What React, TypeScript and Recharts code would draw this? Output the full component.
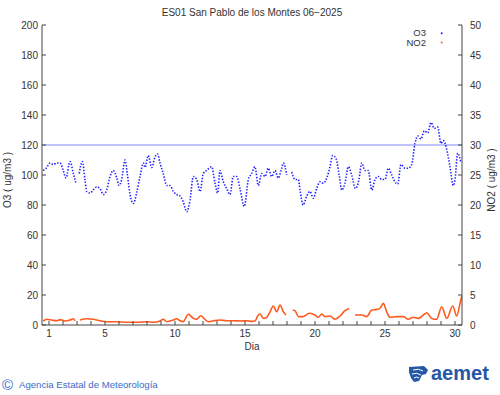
import { LineChart, Line, XAxis, YAxis, ReferenceLine } from "recharts";

const FONT = "'Liberation Sans', Arial, Helvetica, sans-serif";
const AXIS = "#444";
const TEXT = "#333";
const O3_COLOR = "#1f1fff";
const NO2_COLOR = "#ff5a1f";

const title = "ES01 San Pablo de los Montes 06\u22122025";
const xLabel = "Dia";
const o3Label = "O3 ( ug/m3 )";
const no2Label = "NO2 ( ug/m3 )";
const footerText = "Agencia Estatal de Meteorología";

const dayTicks = [
  1, 2, 3, 4, 5, 6, 7, 8, 9, 10, 11, 12, 13, 14, 15, 16, 17, 18, 19, 20, 21,
  22, 23, 24, 25, 26, 27, 28, 29, 30,
];
const dayLabels = [1, 5, 10, 15, 20, 25, 30];
const o3Ticks = [0, 20, 40, 60, 80, 100, 120, 140, 160, 180, 200];
const no2Ticks = [0, 5, 10, 15, 20, 25, 30, 35, 40, 45, 50];
const o3Limit = 120;

// O3 (left axis), null = no data
const o3Day = [
  0.59, 0.84, 1.07, 1.31, 1.55, 1.79, 2.02, 2.21, 2.5, 2.74, 2.91, 3.05, 3.16,
  3.38, 3.57, 3.69, 3.93, 4.16, 4.41, 4.64, 4.88, 5.12, 5.36, 5.59, 5.84, 6.0,
  6.19, 6.43, 6.59, 6.79, 7.02, 7.26, 7.5, 7.74, 7.86, 8.09, 8.34, 8.57, 8.76,
  8.93, 9.16, 9.41, 9.64, 9.88, 10.12, 10.36, 10.59, 10.84, 11.07, 11.31, 11.55,
  11.79, 12.02, 12.26, 12.62, 12.86, 13.05, 13.21, 13.45, 13.69, 13.93, 14.16,
  14.41, 14.64, 14.95, 15.24, 15.48, 15.71, 15.95, 16.19, 16.43, 16.66, 16.91,
  17.14, 17.38, 17.62, 17.74, 17.98, 18.15, 18.34, 18.57, 18.81, 18.93, 19.16,
  19.41, 19.64, 19.88, 20.12, 20.36, 20.59, 20.84, 21.07, 21.26, 21.5, 21.74,
  21.91, 22.14, 22.38, 22.62, 22.89, 23.14, 23.34, 23.57, 23.81, 24.05, 24.29,
  24.52, 24.76, 25.0, 25.24, 25.48, 25.71, 25.91, 26.14, 26.43, 26.66, 26.91,
  27.14, 27.34, 27.57, 27.81, 28.05, 28.29, 28.52, 28.76, 29.0, 29.16, 29.41,
  29.64, 29.88, 30.0, 30.19, 30.43,
];
const o3Value = [
  103, 105, 108, 107, 108, 108, 103, 98, 109, 101, 95, null, 101, 109, 97, 89,
  88, 90, 92, 91, 87, 90, 99, 103, 98, 93, 97, 110, 101, 87, 81, 88, 99, 108,
  105, 113, 105, 112, 114, 108, 101, 93, 93, 89, 87, 86, 82, 75.5, 83, 99, 97,
  89, 101, 103, 105.5, 94.5, 88, 103, 95.5, 91, 87, 99, 99, 91, 79, 97, 101,
  105.5, 93, 101, 99, 104.5, 99, 103, 98, 104.5, 108, 100, null, 102, 97, 97,
  90, 80, 86, 89, 84.5, 91, 95.5, 94.5, 98, 105.5, 113, 111, 99, 90, 94.5,
  105.5, 100, 91, 97, 108, 103, 103, 90, 97, 99, 97, 97, 104.5, 100, 95.5, 94,
  107, 104.5, 104.5, 107, 121, 126, 124, 129.5, 128, 135, 131, 132, 121, 123,
  117, 105.5, 93, 97, 114.5, 108,
];

// NO2 (right axis), null = no data
const no2Day = [
  0.59, 0.84, 1.19, 1.55, 1.79, 2.14, 2.5, 2.74, 2.86, 3.0, 3.21, 3.69, 4.16,
  4.64, 5.12, 5.84, 6.55, 7.26, 7.98, 8.45, 8.93, 9.16, 9.41, 9.88, 10.12,
  10.36, 10.59, 10.95, 11.31, 11.55, 11.84, 12.14, 12.38, 12.74, 13.21, 13.69,
  14.16, 14.64, 15.12, 15.48, 15.71, 15.95, 16.07, 16.31, 16.55, 16.79, 17.02,
  17.26, 17.5, 17.74, 17.93, 18.15, 18.41, 18.57, 18.81, 19.16, 19.59, 20.0,
  20.24, 20.48, 20.71, 21.07, 21.43, 21.79, 22.14, 22.45, 22.65, 22.86, 23.34,
  23.69, 24.05, 24.41, 24.64, 24.88, 25.12, 25.36, 25.84, 26.31, 26.66, 27.02,
  27.38, 27.74, 27.98, 28.34, 28.69, 29.05, 29.41, 29.84, 30.12, 30.36, 30.48,
];
const no2Value = [
  0.67, 0.95, 0.83, 0.7, 0.9, 0.67, 0.83, 1.05, 0.7, null, 0.83, 1.05, 0.95,
  0.7, 0.55, 0.55, 0.45, 0.45, 0.55, 0.45, 0.67, 0.95, 0.55, 0.83, 1.05, 0.7,
  0.55, 1.8, 1.1, 0.95, 1.55, 0.95, 0.55, 0.7, 0.83, 0.7, 0.7, 0.67, 0.7, 0.6,
  0.67, 1.67, 1.83, 1.1, 1.28, 2.2, 3.17, 2.2, 3.33, 2.2, 1.67, null, 2.5, 2.4,
  1.4, 1.4, 1.95, 1.67, 1.28, 1.83, 1.4, 1.5, 0.95, 1.5, 2.4, 2.77, null, 1.67,
  1.67, 1.4, 2.5, 2.6, 2.77, 3.6, 2.2, 1.28, 1.4, 1.4, 0.95, 1.28, 1.1, 1.67,
  2.05, 1.1, 0.95, 3.05, 1.1, 3.17, 1.5, 3.6, 4.8,
];

const o3Data = o3Day.map((day, i) => ({ day, o3: o3Value[i] }));
const no2Data = no2Day.map((day, i) => ({ day, no2: no2Value[i] }));

const tickText = { fontFamily: FONT, fontSize: 10, fill: TEXT };
const legendText = { fontFamily: FONT, fontSize: 9.5, fill: TEXT };

const BottomTick = ({ x, y, payload }: any) => (
  <g>
    <line x1={x} y1={y} x2={x} y2={y - 4} stroke={AXIS} />
    {dayLabels.includes(payload.value) && (
      <text x={x} y={y + 12} textAnchor="middle" {...tickText}>
        {payload.value}
      </text>
    )}
  </g>
);

const TopTick = ({ x, y }: any) => (
  <line x1={x} y1={y} x2={x} y2={y + 4} stroke={AXIS} />
);

const LeftTick = ({ x, y, payload }: any) => (
  <g>
    <line x1={x} y1={y} x2={x + 4} y2={y} stroke={AXIS} />
    <text x={x - 4} y={y + 3.5} textAnchor="end" {...tickText}>
      {payload.value}
    </text>
  </g>
);

const RightTick = ({ x, y, payload }: any) => (
  <g>
    <line x1={x} y1={y} x2={x - 4} y2={y} stroke={AXIS} />
    <text x={x + 8} y={y + 3.5} textAnchor="start" {...tickText}>
      {payload.value}
    </text>
  </g>
);

export default function App() {
  return (
    <div
      style={{
        position: "absolute",
        left: 0,
        top: 0,
        width: 500,
        height: 395,
        background: "#fff",
      }}
    >
      <LineChart
        width={500}
        height={395}
        margin={{ top: 25, right: 0, bottom: 50, left: 0 }}
      >
        <XAxis
          dataKey="day"
          type="number"
          domain={[0.5, 30.5]}
          allowDataOverflow
          ticks={dayTicks}
          interval={0}
          height={20}
          tickSize={0}
          tickMargin={0}
          tickLine={false}
          axisLine={{ stroke: AXIS }}
          tick={<BottomTick />}
        />
        <XAxis
          xAxisId="top"
          orientation="top"
          dataKey="day"
          type="number"
          domain={[0.5, 30.5]}
          allowDataOverflow
          ticks={dayTicks}
          interval={0}
          height={0}
          tickSize={0}
          tickMargin={0}
          tickLine={false}
          axisLine={{ stroke: AXIS }}
          tick={<TopTick />}
        />
        <YAxis
          yAxisId="left"
          domain={[0, 200]}
          allowDataOverflow
          ticks={o3Ticks}
          interval={0}
          width={42}
          tickSize={0}
          tickMargin={0}
          tickLine={false}
          axisLine={{ stroke: AXIS }}
          tick={<LeftTick />}
        />
        <YAxis
          yAxisId="right"
          orientation="right"
          domain={[0, 50]}
          allowDataOverflow
          ticks={no2Ticks}
          interval={0}
          width={38}
          tickSize={0}
          tickMargin={0}
          tickLine={false}
          axisLine={{ stroke: AXIS }}
          tick={<RightTick />}
        />
        <ReferenceLine
          yAxisId="left"
          y={o3Limit}
          stroke="#aab0ff"
          strokeWidth={1.5}
        />
        <Line
          data={no2Data}
          yAxisId="right"
          dataKey="no2"
          type="monotone"
          stroke={NO2_COLOR}
          strokeWidth={1.6}
          dot={false}
          isAnimationActive={false}
        />
        <Line
          data={o3Data}
          yAxisId="left"
          dataKey="o3"
          type="monotone"
          stroke={O3_COLOR}
          strokeWidth={1.6}
          strokeDasharray="1.4 1.6"
          dot={false}
          isAnimationActive={false}
        />
      </LineChart>
      <svg
        width={500}
        height={395}
        style={{ position: "absolute", left: 0, top: 0, pointerEvents: "none" }}
      >
        <text x={252} y={16} textAnchor="middle" {...tickText}>
          {title}
        </text>
        <text x={252} y={350} textAnchor="middle" {...tickText}>
          {xLabel}
        </text>
        <text
          x={11}
          y={180}
          textAnchor="middle"
          transform="rotate(-90 11 180)"
          {...tickText}
        >
          {o3Label}
        </text>
        <text
          x={495}
          y={180}
          textAnchor="middle"
          transform="rotate(-90 495 180)"
          {...tickText}
        >
          {no2Label}
        </text>
        <text x={426} y={36} textAnchor="end" {...legendText}>
          O3
        </text>
        <circle cx={441.7} cy={33.3} r={1} fill={O3_COLOR} />
        <text x={426} y={46} textAnchor="end" {...legendText}>
          NO2
        </text>
        <circle cx={441.7} cy={42.5} r={1} fill={NO2_COLOR} />
        <text x={2} y={389.5} fontFamily={FONT} fontSize={15} fill="#3a6cc8">
          ©
        </text>
        <text x={19} y={388} fontFamily={FONT} fontSize={9.6} fill="#3a6cc8">
          {footerText}
        </text>
        <g fill="#2457a6">
          <path d="M409 367 L424 366 L428 370 L426 374 L422 375 L419 381 L414 382 L411 378 L409 372 Z" />
          <path
            d="M413 370 Q419 368 423 371 M412 374 Q417 372 421 375 M414 378 Q417 376 419 378"
            stroke="#fff"
            strokeWidth={1}
            fill="none"
          />
        </g>
        <text
          x={431}
          y={380}
          fontFamily={FONT}
          fontSize={20}
          fontWeight="bold"
          fill="#2457a6"
        >
          aemet
        </text>
      </svg>
    </div>
  );
}
